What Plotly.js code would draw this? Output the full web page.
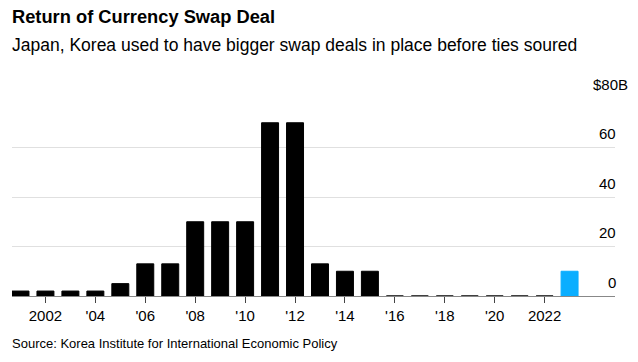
<!DOCTYPE html>
<html>
<head>
<meta charset="utf-8">
<script src="https://cdn.plot.ly/plotly-3.0.1.min.js"></script>
<style>html,body{margin:0;padding:0;background:#fff;}#chart{width:638px;height:362px;}</style>
</head>
<body>
<div id="chart"></div>
<script>
const years = [2001,2002,2003,2004,2005,2006,2007,2008,2009,2010,2011,2012,2013,2014,2015,2016,2017,2018,2019,2020,2021,2022,2023];
const swapBillions = [2,2,2,2,5,13,13,30,30,30,70,70,13,10,10,0,0,0,0,0,0,0,10];
const xTickVals = [2002,2004,2006,2008,2010,2012,2014,2016,2018,2020,2022];
const xTickText = ["2002","'04","'06","'08","'10","'12","'14","'16","'18","'20","2022"];
const yTickVals = [0,20,40,60,80];
const yTickText = ["0","20","40","60","$80B"];

const colors = years.map(y => y === 2023 ? '#0aaeff' : '#000000');

const FONT = 'Liberation Sans, Arial, Helvetica, sans-serif';

const trace = {
  type: 'bar',
  x: years,
  y: swapBillions,
  marker: {color: colors, line: {color: colors, width: 1}},
  width: 0.68,
  hoverinfo: 'x+y'
};

const annotations = yTickVals.map((v, i) => ({
  xref: 'paper', yref: 'y', x: 1, y: v,
  text: yTickText[i], showarrow: false,
  xanchor: 'right', yanchor: 'middle',
  xshift: (i === yTickVals.length - 1 ? 15 : 3), yshift: 14,
  font: {family: FONT, size: 15, color: '#000'}
}));

annotations.push({
  xref: 'paper', yref: 'paper', x: 0, y: 1.268,
  text: 'Japan, Korea used to have bigger swap deals in place before ties soured',
  showarrow: false, xanchor: 'left', yanchor: 'middle', xshift: -2,
  font: {family: FONT, size: 17.5, color: '#000'}
});
annotations.push({
  xref: 'paper', yref: 'paper', x: 0, y: -0.242,
  text: 'Source: Korea Institute for International Economic Policy',
  showarrow: false, xanchor: 'left', yanchor: 'middle', xshift: -2,
  font: {family: FONT, size: 13, color: '#000'}
});

const layout = {
  width: 638, height: 362,
  margin: {l: 12, r: 23, t: 98, b: 66},
  paper_bgcolor: '#fff', plot_bgcolor: '#fff',
  showlegend: false,
  title: {
    text: '<b>Return of Currency Swap Deal</b>',
    x: 0, xref: 'paper', xanchor: 'left',
    y: 1 - 17/362, yref: 'container', yanchor: 'middle',
    font: {family: FONT, size: 18.3, color: '#000'}
  },
  xaxis: {
    type: 'linear',
    range: [2000.66, 2024.82],
    tickmode: 'array', tickvals: xTickVals, ticktext: xTickText,
    ticks: 'outside', ticklen: 6, tickcolor: '#444', tickwidth: 1,
    showline: true, linecolor: '#888', linewidth: 1,
    showgrid: false, zeroline: false,
    tickfont: {family: FONT, size: 15, color: '#000'}
  },
  yaxis: {
    range: [0, 80],
    tickmode: 'array', tickvals: yTickVals,
    showticklabels: false,
    showgrid: true, gridcolor: '#e0e0e0', gridwidth: 1,
    zeroline: false, fixedrange: true
  },
  annotations: annotations
};

Plotly.newPlot('chart', [trace], layout, {displayModeBar: false, staticPlot: true});
</script>
</body>
</html>
